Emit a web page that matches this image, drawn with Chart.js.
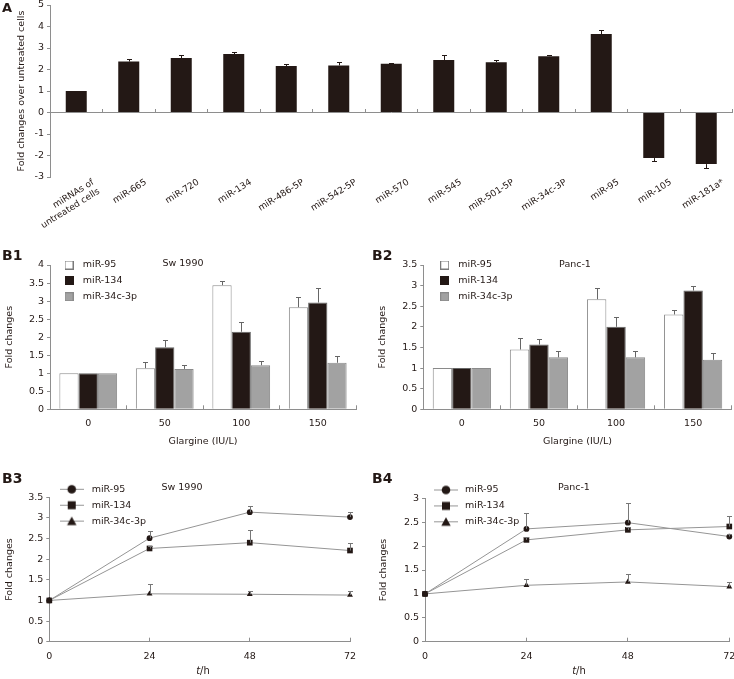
<!DOCTYPE html>
<html><head><meta charset="utf-8">
<script src="https://cdn.jsdelivr.net/npm/chart.js@4/dist/chart.umd.min.js"></script>
<style>
body{margin:0;background:#fff;width:734px;height:679px;position:relative;overflow:hidden;font-family:"DejaVu Sans",sans-serif;color:#231815}
canvas{position:absolute}
.lbl{position:absolute;font-weight:bold;line-height:1;color:#231815;font-family:"DejaVu Sans",sans-serif}
.t{position:absolute;font-size:9.5px;line-height:1;white-space:nowrap;transform:translate(-50%,-50%);color:#231815}
</style></head><body>
<canvas id="cA" width="734" height="240" style="left:0;top:0;width:734px;height:240px"></canvas>
<canvas id="cB1" width="365" height="205" style="left:0;top:245px;width:365px;height:205px"></canvas>
<canvas id="cB2" width="364" height="205" style="left:370px;top:245px;width:364px;height:205px"></canvas>
<canvas id="cB3" width="365" height="209" style="left:0;top:470px;width:365px;height:209px"></canvas>
<canvas id="cB4" width="364" height="209" style="left:370px;top:470px;width:364px;height:209px"></canvas>
<div class="lbl" style="left:2px;top:1px;font-size:13px">A</div>
<div class="lbl" style="left:2px;top:248px;font-size:14px">B1</div>
<div class="lbl" style="left:372px;top:248px;font-size:14px">B2</div>
<div class="lbl" style="left:2px;top:471px;font-size:14px">B3</div>
<div class="lbl" style="left:372px;top:471px;font-size:14px">B4</div>
<div class="t" style="left:183px;top:263px">Sw 1990</div>
<div class="t" style="left:575px;top:264px">Panc-1</div>
<div class="t" style="left:182px;top:487px">Sw 1990</div>
<div class="t" style="left:574px;top:487px">Panc-1</div>
<div class="t" style="left:203px;top:671px;font-size:10px"><i>t</i>/h</div>
<div class="t" style="left:579px;top:671px;font-size:10px"><i>t</i>/h</div>
<script>
// ---------- DATA ----------
const catA = [["miRNAs of","untreated cells"],"miR-665","miR-720","miR-134","miR-486-5P","miR-542-5P","miR-570","miR-545","miR-501-5P","miR-34c-3P","miR-95","miR-105","miR-181a*"];
const valA = [1.00,2.37,2.53,2.72,2.16,2.19,2.27,2.44,2.34,2.62,3.65,-2.12,-2.40];
const errA = [0,0.11,0.14,0.09,0.10,0.15,0.05,0.24,0.10,0.05,0.17,0.13,0.19];

const seriesNames = ["miR-95","miR-134","miR-34c-3p"];
const doses = ["0","50","100","150"];
const b1_95  = [1.00,1.14,3.44,2.83]; const b1_95e  = [0,0.16,0.11,0.27];
const b1_134 = [1.00,1.72,2.15,2.96]; const b1_134e = [0,0.20,0.26,0.39];
const b1_34c = [1.00,1.12,1.22,1.29]; const b1_34ce = [0,0.12,0.13,0.20];
const b2_95  = [1.00,1.45,2.67,2.30]; const b2_95e  = [0,0.29,0.27,0.11];
const b2_134 = [1.00,1.57,2.00,2.88]; const b2_134e = [0,0.14,0.24,0.11];
const b2_34c = [1.00,1.26,1.26,1.20]; const b2_34ce = [0,0.16,0.16,0.17];

const hours = [0,24,48,72];
const b3_95  = [1.00,2.51,3.14,3.02]; const b3_95e  = [0,0.18,0.14,0.13];
const b3_134 = [1.00,2.26,2.40,2.21]; const b3_134e = [0,0.05,0.30,0.19];
const b3_34c = [1.00,1.16,1.15,1.13]; const b3_34ce = [0,0.23,0.09,0.11];
const b4_95  = [1.00,2.36,2.49,2.20]; const b4_95e  = [0,0.33,0.41,0.05];
const b4_134 = [1.00,2.13,2.34,2.41]; const b4_134e = [0,0.05,0.05,0.22];
const b4_34c = [1.00,1.18,1.25,1.15]; const b4_34ce = [0,0.13,0.17,0.10];

// ---------- STYLE ----------
const TXT = '#231815', AX = '#8e8e8e', DARK = '#231815', GRAYBAR = '#a2a2a2', LINE = '#959595';
Chart.defaults.font.family = '"DejaVu Sans", Verdana, sans-serif';
Chart.defaults.font.size = 9.5;
Chart.defaults.color = TXT;
Chart.defaults.animation = false;

const errorBars = {
  id: 'errorBars',
  afterDatasetsDraw(chart) {
    const ctx = chart.ctx;
    chart.data.datasets.forEach((ds, di) => {
      if (!ds.errors) return;
      const meta = chart.getDatasetMeta(di);
      const ys = chart.scales[meta.yAxisID];
      ctx.save();
      ctx.strokeStyle = ds.errorColor || '#555';
      ctx.lineWidth = 1;
      meta.data.forEach((el, i) => {
        const e = ds.errors[i]; if (!e) return;
        const raw = ds.data[i]; const v = (typeof raw === 'object') ? raw.y : raw;
        const s = v < 0 ? -1 : 1;
        const x = Math.round(el.x) + 0.5;
        const y0 = ys.getPixelForValue(v), y1 = Math.round(ys.getPixelForValue(v + s * e)) + 0.5;
        const cap = ds.errorCap || 2.5;
        ctx.beginPath(); ctx.moveTo(x, y0); ctx.lineTo(x, y1);
        ctx.moveTo(x - cap, y1); ctx.lineTo(x + cap, y1); ctx.stroke();
      });
      ctx.restore();
    });
  }
};
function placeLegend(x, rowCenter) {
  return { id: 'placeLegend', afterLayout(chart) {
    const l = chart.legend; if (!l) return;
    const pad = l.options.labels.padding; const fs = 9.5;
    const w = l.width, h = l.height;
    l.left = x - pad; l.top = rowCenter - fs / 2 - pad;
    l.right = l.left + w; l.bottom = l.top + h;
  }};
}
function boxImg(fill, stroke) {
  const c = document.createElement('canvas'); c.width = 9; c.height = 9;
  const g = c.getContext('2d'); g.fillStyle = fill; g.fillRect(0, 0, 9, 9);
  g.strokeStyle = stroke; g.lineWidth = 1; g.strokeRect(0.5, 0.5, 8, 8); return c;
}
function lineImg(style) {
  const c = document.createElement('canvas'); c.width = 24; c.height = 11;
  const g = c.getContext('2d'); g.strokeStyle = LINE; g.lineWidth = 1;
  g.beginPath(); g.moveTo(0, 5.5); g.lineTo(24, 5.5); g.stroke();
  g.fillStyle = DARK; g.beginPath();
  if (style === 'circle') g.arc(12, 5.5, 4.3, 0, Math.PI * 2);
  else if (style === 'rect') g.rect(8, 1.5, 8, 8);
  else { g.moveTo(12, 1); g.lineTo(16.7, 9.5); g.lineTo(7.3, 9.5); g.closePath(); }
  g.fill(); return c;
}
function legendCfg(images, pw) {
  return { display: true, position: 'chartArea', align: 'start',
    labels: { usePointStyle: true, pointStyleWidth: pw, padding: 6.4, font: { size: 9.5 }, color: TXT,
      generateLabels(chart) {
        return chart.data.datasets.map((d, i) => ({ text: d.label, pointStyle: images[i], datasetIndex: i,
          hidden: false, fontColor: TXT, lineWidth: 0, strokeStyle: 'rgba(0,0,0,0)', fillStyle: 'rgba(0,0,0,0)' }));
      } } };
}
function yAxis(min, max, step, width, titleX, title) {
  return { type: 'linear', min: min, max: max,
    ticks: { stepSize: step, padding: 3, autoSkip: false, color: TXT, callback: (v) => String(v) },
    grid: { drawOnChartArea: false, tickLength: 3, color: AX },
    border: { color: AX },
    title: { display: true, text: title, color: TXT, font: { size: 9.5 }, padding: { top: titleX - 5.7, bottom: 0 } },
    afterFit(s) { s.width = width; s.paddingTop = 0; s.paddingBottom = 0; } };
}
function fixH(h) { return function (s) { s.height = h; s.paddingLeft = 0; s.paddingRight = 0; }; }

// ---------- PANEL A ----------
new Chart(document.getElementById('cA'), {
  type: 'bar',
  data: { labels: catA, datasets: [{ label: 'Fold change', data: valA, errors: errA, errorColor: DARK, errorCap: 2.5,
    backgroundColor: DARK, borderColor: '#555', borderWidth: 0, barPercentage: 0.4, categoryPercentage: 1 }] },
  options: { responsive: false, devicePixelRatio: 1,
    layout: { padding: { left: 0, top: 5, right: 1.5, bottom: 0 } },
    plugins: { legend: { display: false }, tooltip: { enabled: false } },
    scales: {
      x: { type: 'category', offset: true, grid: { display: false }, border: { display: false },
        ticks: { minRotation: 32, maxRotation: 32, autoSkip: false, labelOffset: 17, padding: -8, font: { size: 9 }, color: TXT },
        afterFit: fixH(63) },
      x2: { type: 'category', position: { y: 0 }, offset: true, grid: { offset: true, drawOnChartArea: false, tickLength: -4, color: AX },
        border: { color: AX }, ticks: { display: false } },
      y: yAxis(-3, 5, 1, 50, 21.7, 'Fold changes over untreated cells')
    } },
  plugins: [errorBars]
});

// ---------- PANELS B1/B2 ----------
function barPanel(id, d1, e1, d2, e2, d3, e3, ymax, yw, titleX, padRight, legX, legPW) {
  const imgs = [boxImg('#ffffff', '#7a7a7a'), boxImg(DARK, DARK), boxImg(GRAYBAR, '#8a8a8a')];
  new Chart(document.getElementById(id), {
    type: 'bar',
    data: { labels: doses, datasets: [
      { label: seriesNames[0], data: d1, errors: e1, backgroundColor: '#ffffff', borderColor: '#8a8a8a', borderWidth: 1, errorColor: '#666' },
      { label: seriesNames[1], data: d2, errors: e2, backgroundColor: DARK, borderColor: '#666', borderWidth: 1, errorColor: '#666' },
      { label: seriesNames[2], data: d3, errors: e3, backgroundColor: GRAYBAR, borderColor: '#8a8a8a', borderWidth: 1, errorColor: '#666' } ] },
    options: { responsive: false, devicePixelRatio: 1,
      datasets: { bar: { categoryPercentage: 0.755, barPercentage: 1 } },
      layout: { padding: { left: 0, top: 20, right: padRight, bottom: 0 } },
      plugins: { legend: legendCfg(imgs, legPW), tooltip: { enabled: false } },
      scales: {
        x: { type: 'category', offset: true, grid: { offset: true, drawOnChartArea: false, tickLength: -4, color: AX }, border: { color: AX },
          ticks: { padding: 13, color: TXT, font: { size: 9.5 } },
          title: { display: true, text: 'Glargine (IU/L)', color: TXT, font: { size: 9.5 }, padding: { top: 0, bottom: 2.6 } },
          afterFit: fixH(40.7) },
        y: yAxis(0, ymax, 0.5, yw, titleX, 'Fold changes')
      } },
    plugins: [errorBars, placeLegend(legX, 20)]
  });
}
barPanel('cB1', b1_95, b1_95e, b1_134, b1_134e, b1_34c, b1_34ce, 4, 50, 10, 9, 60, 18);
barPanel('cB2', b2_95, b2_95e, b2_134, b2_134e, b2_34c, b2_34ce, 3.5, 53.3, 13, 2.3, 65.85, 17.7);

// ---------- PANELS B3/B4 ----------
function xy(xs, ys) { return xs.map((x, i) => ({ x: x, y: ys[i] })); }
function linePanel(id, d1, e1, d2, e2, d3, e3, ymax, yw, titleX, padTop, padRight, legX, legY, legPW) {
  const imgs = [lineImg('circle'), lineImg('rect'), lineImg('triangle')];
  const common = { borderColor: LINE, borderWidth: 1, pointBackgroundColor: DARK, pointBorderColor: DARK, pointBorderWidth: 0,
    fill: false, tension: 0, clip: false, errorColor: '#777', errorCap: 2.5 };
  new Chart(document.getElementById(id), {
    type: 'line',
    data: { datasets: [
      Object.assign({ label: seriesNames[0], data: xy(hours, d1), errors: e1, pointStyle: 'circle', pointRadius: 2.9 }, common),
      Object.assign({ label: seriesNames[1], data: xy(hours, d2), errors: e2, pointStyle: 'rect', pointRadius: 4 }, common),
      Object.assign({ label: seriesNames[2], data: xy(hours, d3), errors: e3, pointStyle: 'triangle', pointRadius: 3.4 }, common) ] },
    options: { responsive: false, devicePixelRatio: 1,
      layout: { padding: { left: 0, top: padTop, right: padRight, bottom: 0 } },
      plugins: { legend: legendCfg(imgs, legPW), tooltip: { enabled: false } },
      scales: {
        x: { type: 'linear', min: 0, max: 72, grid: { drawOnChartArea: false, tickLength: -4, color: AX }, border: { color: AX },
          ticks: { stepSize: 24, padding: 13, color: TXT, font: { size: 9.5 } },
          afterFit: fixH(37.3) },
        y: yAxis(0, ymax, 0.5, yw, titleX, 'Fold changes')
      } },
    plugins: [errorBars, placeLegend(legX, legY)]
  });
}
linePanel('cB3', b3_95, b3_95e, b3_134, b3_134e, b3_34c, b3_34ce, 3.5, 49.3, 10, 27.3, 15, 56.45, 19.3, 30.5);
linePanel('cB4', b4_95, b4_95e, b4_134, b4_134e, b4_34c, b4_34ce, 3, 55, 13.3, 28.3, 4.7, 61.75, 20, 28.5);
</script>
</body></html>
